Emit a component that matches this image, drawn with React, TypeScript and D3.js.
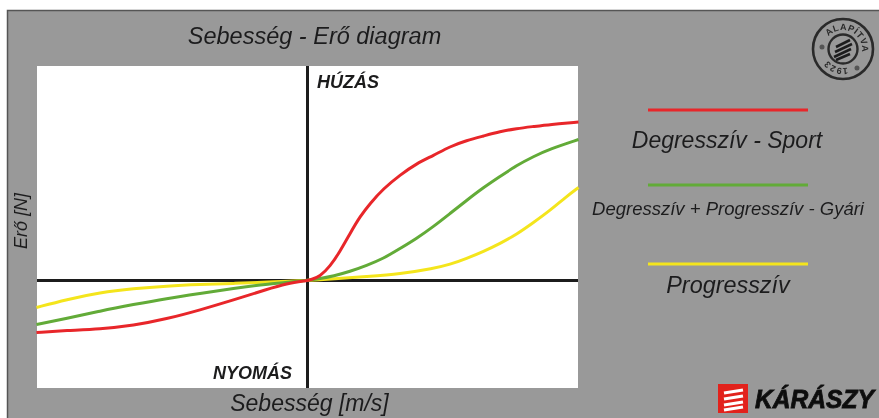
import React from "react";
import * as d3 from "d3";

const W = 879, H = 418;
const speedDomain: [number, number] = [-270.5, 270.5];
const forceDomain: [number, number] = [-107.5, 214.5];

const redSpeed = [-271,-241,-207.5,-174,-141,-107.5,-74,-41,-21,0,2.5,12.5,22.5,32.5,42.5,52.5,62.5,76,92.5,109,126,142.5,159,176,192.5,209,226,242.5,271];
const redForce = [-52,-50,-48.5,-45,-38.5,-29.5,-19.5,-9,-3,0,0.5,4,14,29,47,64,77,92,105.5,117,125,134,140,144.5,149,152,154,156,158.5];
const greenSpeed = [-271,-241,-207.5,-174,-141,-107.5,-74,-41,0,12.5,26,42.5,59,76,92.5,109,126,142.5,159,176,192.5,209,226,242.5,271];
const greenForce = [-44,-38,-30.5,-24,-18,-13,-8,-3.5,0,2,4.5,9,15,22,32,42,54,67,80,93,104,115,124,131.5,141];
const yellowSpeed = [-271,-241,-207.5,-174,-141,-107.5,-74,-41,0,26,59,92.5,126,142.5,159,176,192.5,209,226,242.5,259,271];
const yellowForce = [-27,-19,-12,-8,-5.5,-4,-3,-1.5,0,1.5,4,6.5,12,16,22,29,37,46,58,70,84,93];

const seriesNames = ["Degresszív - Sport", "Degresszív + Progresszív - Gyári", "Progresszív"];
const seriesColors = ["#e8272a", "#62ab37", "#f4e51e"];

const x = d3.scaleLinear().domain(speedDomain).range([37, 578]);
const y = d3.scaleLinear().domain(forceDomain).range([388, 66]);
const line = d3.line<[number, number]>().x(d => x(d[0])).y(d => y(d[1])).curve(d3.curveBasis);
const zip = (a: number[], b: number[]) => a.map((v, i) => [v, b[i]] as [number, number]);

const font = "'Liberation Sans', Arial, sans-serif";
const ink = "#1d1d1f";

export default function App() {
  return (
    <svg width={W} height={H} viewBox={`0 0 ${W} ${H}`} style={{ position: "absolute", left: 0, top: 0, display: "block" }} fontFamily={font}>
      <defs>
        <filter id="soft" x="-5%" y="-5%" width="110%" height="110%"><feGaussianBlur stdDeviation="0.5" /></filter>
        <path id="stampRing" d="M 824 49 A 19 19 0 1 1 862 49 A 19 19 0 1 1 824 49" />
      </defs>
      <rect width={W} height={H} fill="#fff" />
      <g filter="url(#soft)">
        <rect x={7} y={10} width={W - 7} height={H - 10} fill="#999999" />
        <path d="M7.5 418V10.5H879" fill="none" stroke="#555" strokeWidth={1.5} />
        <rect x={37} y={66} width={541} height={322} fill="#fff" />
        <line x1={37} x2={578} y1={y(0)} y2={y(0)} stroke={ink} strokeWidth={3} />
        <line x1={x(0)} x2={x(0)} y1={66} y2={388} stroke={ink} strokeWidth={3} />
        <path d={line(zip(yellowSpeed, yellowForce)) ?? ""} fill="none" stroke={seriesColors[2]} strokeWidth={3} />
        <path d={line(zip(greenSpeed, greenForce)) ?? ""} fill="none" stroke={seriesColors[1]} strokeWidth={3} />
        <path d={line(zip(redSpeed, redForce)) ?? ""} fill="none" stroke={seriesColors[0]} strokeWidth={3} />

        <g fill={ink} fontStyle="italic">
          <text x={314.5} y={44} textAnchor="middle" fontSize={23.5}>Sebesség - Erő diagram</text>
          <text x={309.5} y={411} textAnchor="middle" fontSize={23}>Sebesség [m/s]</text>
          <text transform="translate(27,221) rotate(-90)" textAnchor="middle" fontSize={18}>Erő [N]</text>
          <text x={317} y={88} fontSize={18} fontWeight="bold">HÚZÁS</text>
          <text x={292} y={379} textAnchor="end" fontSize={18} fontWeight="bold">NYOMÁS</text>
          <text x={727} y={148} textAnchor="middle" fontSize={23}>{seriesNames[0]}</text>
          <text x={728} y={215} textAnchor="middle" fontSize={18.5}>{seriesNames[1]}</text>
          <text x={728} y={293} textAnchor="middle" fontSize={23.4}>{seriesNames[2]}</text>
        </g>
        {[110, 185, 264].map((ly, i) => (
          <line key={i} x1={648} x2={808} y1={ly} y2={ly} stroke={seriesColors[i]} strokeWidth={3} />
        ))}

        <g fill="none" stroke="#2a2a2a">
          <circle cx={843} cy={49} r={30} strokeWidth={2.6} />
          <circle cx={843} cy={49} r={14.5} strokeWidth={2.4} />
        </g>
        <circle cx={822} cy={47} r={2.5} fill="#555" />
        <circle cx={857} cy={68} r={2.5} fill="#555" />
        <g stroke="#1d1d1f" strokeWidth={2.6}>
          <line x1={836} y1={47} x2={850} y2={40} />
          <line x1={835} y1={52} x2={852} y2={44} />
          <line x1={834} y1={57} x2={851} y2={49} />
          <line x1={836} y1={60} x2={850} y2={54} />
        </g>
        <text fontSize={9} fontWeight="bold" fill="#2a2a2a" letterSpacing={0.6}>
          <textPath href="#stampRing" startOffset="32%" textAnchor="middle">ALAPÍTVA</textPath>
        </text>
        <text fontSize={9} fontWeight="bold" fill="#2a2a2a" letterSpacing={0.6}>
          <textPath href="#stampRing" startOffset="80.5%" textAnchor="middle">1923</textPath>
        </text>

        <rect x={718} y={384} width={30} height={29} fill="#e2231a" />
        <g stroke="#fff" strokeWidth={3.2}>
          <line x1={724} y1={393} x2={743} y2={390} />
          <line x1={724} y1={399} x2={743} y2={396} />
          <line x1={724} y1={405} x2={743} y2={402} />
          <line x1={724} y1={410} x2={743} y2={407} />
        </g>
        <text transform="translate(755,408) scale(1,1.08)" fontSize={24.6} fontWeight="bold" fontStyle="italic" fill="#111" stroke="#111" strokeWidth={0.8}>KÁRÁSZY</text>
      </g>
    </svg>
  );
}
